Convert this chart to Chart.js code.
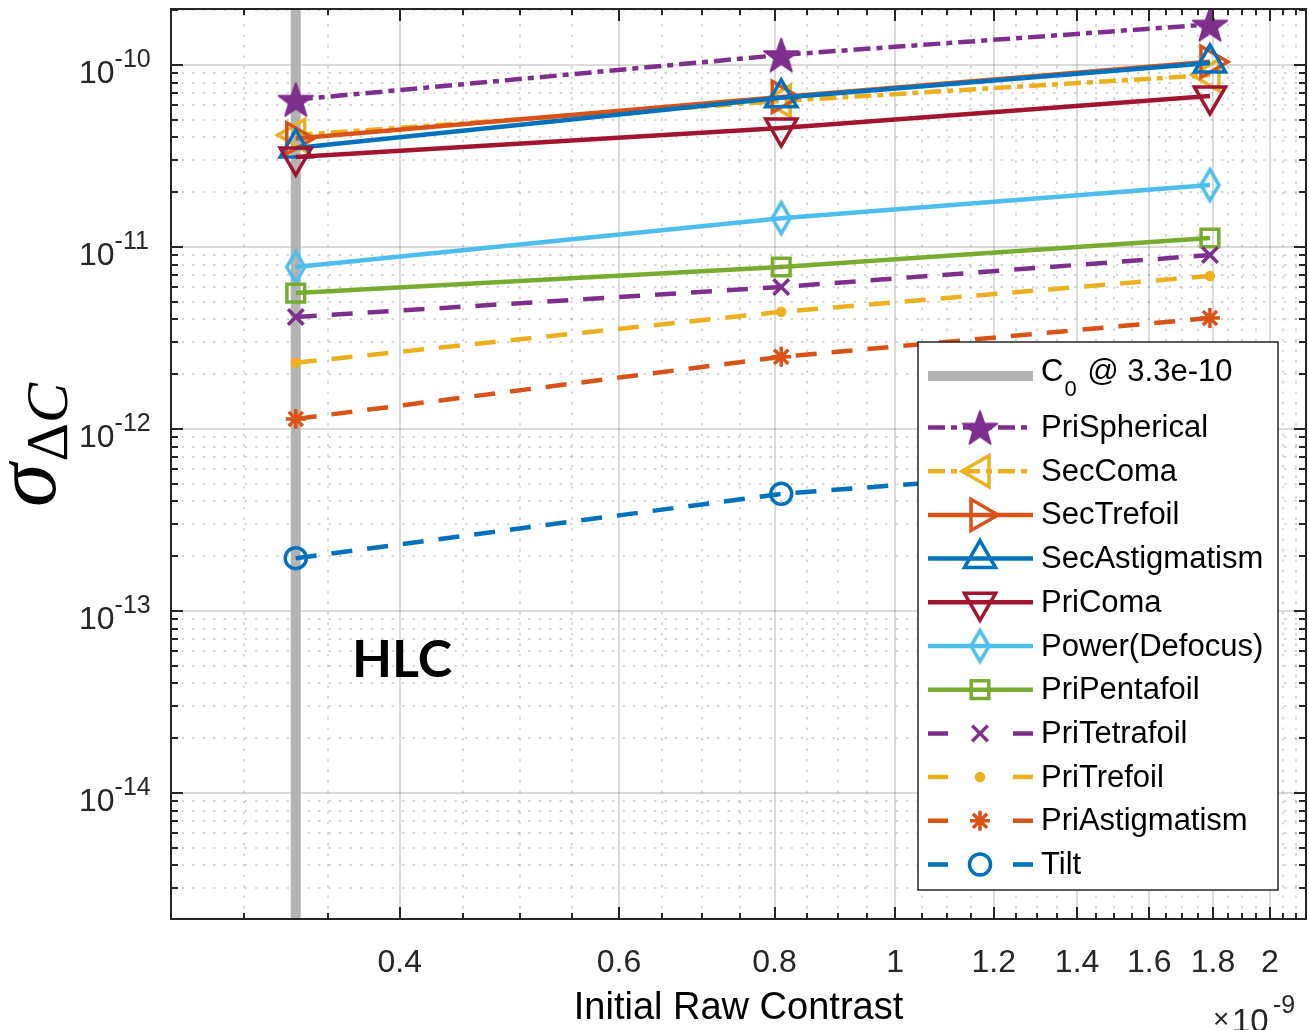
<!DOCTYPE html>
<html>
<head>
<meta charset="utf-8">
<title>Sensitivity vs initial raw contrast</title>
<script src="https://cdn.jsdelivr.net/npm/chart.js@4.4.1/dist/chart.umd.min.js"></script>
<style>
  html, body { margin: 0; padding: 0; background: #fff; }
  canvas { display: block; }
</style>
</head>
<body>
<canvas id="sens" width="1309" height="1030"></canvas>
<script>
// initial raw contrast of each run, and the C0 reference
const contrast = [3.3e-10, 8.1e-10, 1.79e-9];
const c0Value = 3.3e-10;

// sigma of delta-C per aberration mode
const priSpherical   = [6.45e-11, 1.135e-10, 1.67e-10];
const secComa        = [4.12e-11, 6.34e-11, 8.8e-11];
const secTrefoil     = [3.95e-11, 6.67e-11, 1.04e-10];
const secAstigmatism = [3.5e-11, 6.6e-11, 1.025e-10];
const priComa        = [3.12e-11, 4.5e-11, 6.76e-11];
const powerDefocus   = [7.76e-12, 1.44e-11, 2.19e-11];
const priPentafoil   = [5.58e-12, 7.76e-12, 1.12e-11];
const priTetrafoil   = [4.12e-12, 6.03e-12, 9.03e-12];
const priTrefoil     = [2.31e-12, 4.4e-12, 6.93e-12];
const priAstigmatism = [1.135e-12, 2.49e-12, 4.07e-12];
const tilt           = [1.95e-13, 4.4e-13, 6.6e-13];

// axis ticks (x in units of 1e-9)
const xTickValues = [0.4, 0.6, 0.8, 1, 1.2, 1.4, 1.6, 1.8, 2];
const xTickLabels = ['0.4', '0.6', '0.8', '1', '1.2', '1.4', '1.6', '1.8', '2'];
const xExponent = -9;
const yTickExponents = [-10, -11, -12, -13, -14];

const xMin = 2.62e-10, xMax = 2.138e-9;
const yMin = 2.03e-15, yMax = 2.03e-10;

const AX = '#262626';
const FONT = '"Liberation Sans", Arial, Helvetica, sans-serif';

// filled pentagram marker
function makeStar(color, r) {
  const c = document.createElement('canvas');
  const s = Math.ceil(r * 2 + 6);
  c.width = s; c.height = s;
  const g = c.getContext('2d');
  g.translate(s / 2, s / 2 + r * 0.095);
  g.beginPath();
  for (let k = 0; k < 10; k++) {
    const rr = k % 2 ? r * 0.4 : r;
    const a = -Math.PI / 2 + k * Math.PI / 5;
    g.lineTo(rr * Math.cos(a), rr * Math.sin(a));
  }
  g.closePath();
  g.fillStyle = color; g.fill();
  g.lineJoin = 'round'; g.lineWidth = 2; g.strokeStyle = color; g.stroke();
  return c;
}

// tall open diamond marker
function makeDiamond(color, hw, hh, lw) {
  const c = document.createElement('canvas');
  c.width = Math.ceil(2 * hw + lw * 2 + 2);
  c.height = Math.ceil(2 * hh + lw * 2 + 2);
  const g = c.getContext('2d');
  g.translate(c.width / 2, c.height / 2);
  g.beginPath();
  g.moveTo(0, -hh); g.lineTo(hw, 0); g.lineTo(0, hh); g.lineTo(-hw, 0);
  g.closePath();
  g.lineWidth = lw; g.strokeStyle = color; g.stroke();
  return c;
}

const dashDot = [17, 6, 6, 6];
const dashed = [21, 15];

const series = [
  { label: 'PriSpherical',   data: priSpherical,   color: '#7E2F8E', dash: dashDot, style: makeStar('#7E2F8E', 18), r: 18 },
  { label: 'SecComa',        data: secComa,        color: '#EDB120', dash: dashDot, style: 'triangle', rot: 270, r: 18 },
  { label: 'SecTrefoil',     data: secTrefoil,     color: '#D95319', dash: [],      style: 'triangle', rot: 90, r: 18 },
  { label: 'SecAstigmatism', data: secAstigmatism, color: '#0072BD', dash: [],      style: 'triangle', rot: 0, r: 18 },
  { label: 'PriComa',        data: priComa,        color: '#A2142F', dash: [],      style: 'triangle', rot: 180, r: 18 },
  { label: 'Power(Defocus)', data: powerDefocus,   color: '#4DBEEE', dash: [],      style: makeDiamond('#4DBEEE', 9, 15.5, 3.5), r: 16 },
  { label: 'PriPentafoil',   data: priPentafoil,   color: '#77AC30', dash: [],      style: 'rect', r: 12.5 },
  { label: 'PriTetrafoil',   data: priTetrafoil,   color: '#7E2F8E', dash: dashed,  style: 'crossRot', r: 11 },
  { label: 'PriTrefoil',     data: priTrefoil,     color: '#EDB120', dash: dashed,  style: 'circle', r: 3.5, filled: true },
  { label: 'PriAstigmatism', data: priAstigmatism, color: '#D95319', dash: dashed,  style: 'star', r: 10 },
  { label: 'Tilt',           data: tilt,           color: '#0072BD', dash: dashed,  style: 'circle', r: 10.5 }
];

const datasets = [{
  label: 'C0',
  data: [{ x: c0Value, y: yMin }, { x: c0Value, y: yMax }],
  showLine: true,
  borderColor: '#b3b3b3',
  borderWidth: 10,
  pointRadius: 0,
  order: 100
}].concat(series.map((s, i) => ({
  label: s.label,
  data: s.data.map((v, k) => ({ x: contrast[k], y: v })),
  showLine: true,
  borderColor: s.color,
  borderWidth: 4.5,
  borderDash: s.dash,
  pointStyle: s.style,
  pointRotation: s.rot || 0,
  pointRadius: s.r,
  pointBorderWidth: 3.5,
  pointBorderColor: s.color,
  pointBackgroundColor: s.filled ? s.color : 'rgba(0,0,0,0)',
  order: -i
})));

function minorX() {
  const out = [];
  for (let k = 6; k <= 42; k++) {
    const v = Math.round(k * 5) / 100;
    if (!xTickValues.some(t => Math.abs(t - v) < 1e-9)) out.push(v);
  }
  return out;
}
function minorY() {
  const out = [];
  for (let e = -15; e <= -10; e++) {
    for (let m = 2; m <= 9; m++) {
      const v = m * Math.pow(10, e);
      if (v > yMin && v < yMax) out.push(v);
    }
  }
  return out;
}

const matlabAxes = {
  id: 'matlabAxes',
  beforeDraw(chart) {
    const ctx = chart.ctx;
    ctx.save();
    ctx.fillStyle = '#fff';
    ctx.fillRect(0, 0, chart.width, chart.height);
    ctx.restore();
  },
  beforeDatasetsDraw(chart) {
    const { ctx, chartArea: a, scales: { x, y } } = chart;
    ctx.save();
    ctx.beginPath();
    ctx.rect(a.left, a.top, a.right - a.left, a.bottom - a.top);
    ctx.clip();
    // minor grid, dotted
    ctx.strokeStyle = 'rgba(0,0,0,0.2)';
    ctx.lineWidth = 1.5;
    ctx.setLineDash([2.5, 8]);
    minorX().forEach(v => {
      const px = Math.round(x.getPixelForValue(v * 1e-9));
      ctx.beginPath(); ctx.moveTo(px, a.bottom); ctx.lineTo(px, a.top); ctx.stroke();
    });
    minorY().forEach(v => {
      const py = Math.round(y.getPixelForValue(v));
      ctx.beginPath(); ctx.moveTo(a.left, py); ctx.lineTo(a.right, py); ctx.stroke();
    });
    // major grid, solid
    ctx.setLineDash([]);
    ctx.strokeStyle = 'rgba(0,0,0,0.14)';
    ctx.lineWidth = 2;
    xTickValues.forEach(v => {
      const px = Math.round(x.getPixelForValue(v * 1e-9));
      ctx.beginPath(); ctx.moveTo(px, a.bottom); ctx.lineTo(px, a.top); ctx.stroke();
    });
    yTickExponents.forEach(e => {
      const py = Math.round(y.getPixelForValue(Math.pow(10, e)));
      ctx.beginPath(); ctx.moveTo(a.left, py); ctx.lineTo(a.right, py); ctx.stroke();
    });
    ctx.restore();
  },
  afterDatasetsDraw(chart) {
    const { ctx, chartArea: a, scales: { x, y } } = chart;
    ctx.save();

    // tick marks, pointing inward on all four sides
    ctx.strokeStyle = AX;
    ctx.lineWidth = 2;
    const tickX = (v, len) => {
      const px = Math.round(x.getPixelForValue(v * 1e-9));
      ctx.beginPath();
      ctx.moveTo(px, a.bottom); ctx.lineTo(px, a.bottom - len);
      ctx.moveTo(px, a.top); ctx.lineTo(px, a.top + len);
      ctx.stroke();
    };
    const tickY = (v, len) => {
      const py = Math.round(y.getPixelForValue(v));
      ctx.beginPath();
      ctx.moveTo(a.left, py); ctx.lineTo(a.left + len, py);
      ctx.moveTo(a.right, py); ctx.lineTo(a.right - len, py);
      ctx.stroke();
    };
    minorX().forEach(v => tickX(v, 6));
    xTickValues.forEach(v => tickX(v, 12));
    minorY().forEach(v => tickY(v, 7));
    yTickExponents.forEach(e => tickY(Math.pow(10, e), 12));

    // axes box
    ctx.strokeRect(a.left, a.top, a.right - a.left, a.bottom - a.top);

    // x tick labels
    ctx.fillStyle = AX;
    ctx.font = '32px ' + FONT;
    ctx.textAlign = 'center';
    ctx.textBaseline = 'alphabetic';
    xTickValues.forEach((v, i) => {
      ctx.fillText(xTickLabels[i], x.getPixelForValue(v * 1e-9), 972);
    });

    // y tick labels 10^n
    ctx.textAlign = 'left';
    yTickExponents.forEach(e => {
      const py = y.getPixelForValue(Math.pow(10, e));
      ctx.font = '32px ' + FONT;
      ctx.fillText('10', 79, py + 18);
      const w = ctx.measureText('10').width;
      ctx.font = '25px ' + FONT;
      ctx.fillText(String(e), 79 + w, py + 2);
    });

    // x axis title and exponent
    ctx.fillStyle = '#000';
    ctx.font = '38px ' + FONT;
    ctx.textAlign = 'center';
    ctx.fillText('Initial Raw Contrast', (a.left + a.right) / 2, 1019);
    ctx.textAlign = 'left';
    ctx.fillStyle = AX;
    ctx.font = '28px ' + FONT;
    ctx.fillText('\u00d7', 1213, 1028);
    ctx.font = '33px ' + FONT;
    ctx.fillText('10', 1232, 1032);
    ctx.font = '25px ' + FONT;
    ctx.fillText(String(xExponent), 1273, 1013);

    // y axis title: sigma sub Delta C
    ctx.fillStyle = '#000';
    ctx.translate(55, 507);
    ctx.rotate(-Math.PI / 2);
    ctx.font = 'italic 88px "Liberation Serif", "DejaVu Serif", serif';
    ctx.fillText('\u03c3', 0, 0);
    const sw = ctx.measureText('\u03c3').width;
    ctx.font = '60px "Liberation Serif", "DejaVu Serif", serif';
    ctx.fillText('\u0394', sw + 2, 12);
    const dw = ctx.measureText('\u0394').width;
    ctx.font = 'italic 60px "Liberation Serif", "DejaVu Serif", serif';
    ctx.fillText('C', sw + 2 + dw, 12);
    ctx.setTransform(1, 0, 0, 1, 0, 0);

    // instrument tag
    ctx.font = 'bold 52px Lato, "Open Sans", sans-serif';
    ctx.fillStyle = '#000';
    ctx.fillText('HLC', 352, 677);

    drawLegend(chart);
    ctx.restore();
  }
};

function drawLegend(chart) {
  const ctx = chart.ctx;
  const left = 918, top = 342, right = 1278, bottom = 890;
  ctx.save();
  ctx.fillStyle = '#fff';
  ctx.fillRect(left, top, right - left, bottom - top);
  ctx.strokeStyle = AX;
  ctx.lineWidth = 1.5;
  ctx.strokeRect(left, top, right - left, bottom - top);

  const x0 = 928, x1 = 1033, xm = 980, tx = 1041;

  // C0 row
  let ry = 376;
  ctx.strokeStyle = '#b3b3b3';
  ctx.lineWidth = 10;
  ctx.beginPath(); ctx.moveTo(x0, ry); ctx.lineTo(x1, ry); ctx.stroke();
  ctx.fillStyle = '#000';
  ctx.textBaseline = 'middle';
  ctx.textAlign = 'left';
  ctx.font = '31px ' + FONT;
  ctx.fillText('C', tx, ry - 4);
  let w = ctx.measureText('C').width;
  ctx.font = '22px ' + FONT;
  ctx.fillText('0', tx + w + 1, ry + 14);
  const w0 = ctx.measureText('0').width;
  ctx.font = '31px ' + FONT;
  ctx.fillText(' @ 3.3e-10', tx + w + 1 + w0 + 2, ry - 4);

  const H = Chart.helpers;
  series.forEach((s, i) => {
    ry = 427.5 + i * 43.7;
    ctx.strokeStyle = s.color;
    ctx.lineWidth = 4.5;
    if (s.dash === dashed) {
      ctx.setLineDash([]);
      ctx.beginPath();
      ctx.moveTo(x0, ry); ctx.lineTo(x0 + 20, ry);
      ctx.moveTo(x1 - 20, ry); ctx.lineTo(x1, ry);
      ctx.stroke();
    } else {
      ctx.setLineDash(s.dash);
      ctx.beginPath(); ctx.moveTo(x0, ry); ctx.lineTo(x1, ry); ctx.stroke();
      ctx.setLineDash([]);
    }
    ctx.lineWidth = 3.5;
    ctx.fillStyle = s.filled ? s.color : 'rgba(0,0,0,0)';
    H.drawPoint(ctx, {
      pointStyle: s.style,
      radius: s.r,
      rotation: s.rot || 0,
      borderWidth: 3.5
    }, xm, ry);
    ctx.fillStyle = '#000';
    ctx.font = '31px ' + FONT;
    ctx.textBaseline = 'middle';
    ctx.fillText(s.label, tx, ry + 1);
  });
  ctx.restore();
}

new Chart(document.getElementById('sens'), {
  type: 'scatter',
  data: { datasets },
  options: {
    responsive: false,
    animation: false,
    events: [],
    layout: { autoPadding: false, padding: { top: 9, right: 3, left: 0, bottom: 0 } },
    plugins: { legend: { display: false }, tooltip: { enabled: false } },
    scales: {
      x: {
        type: 'logarithmic',
        min: xMin, max: xMax,
        bounds: 'data',
        grid: { display: false },
        border: { display: false },
        ticks: { display: false },
        afterFit: s => { s.height = 111; }
      },
      y: {
        type: 'logarithmic',
        min: yMin, max: yMax,
        bounds: 'data',
        grid: { display: false },
        border: { display: false },
        ticks: { display: false },
        afterFit: s => { s.width = 171; }
      }
    }
  },
  plugins: [matlabAxes]
});
</script>
</body>
</html>
